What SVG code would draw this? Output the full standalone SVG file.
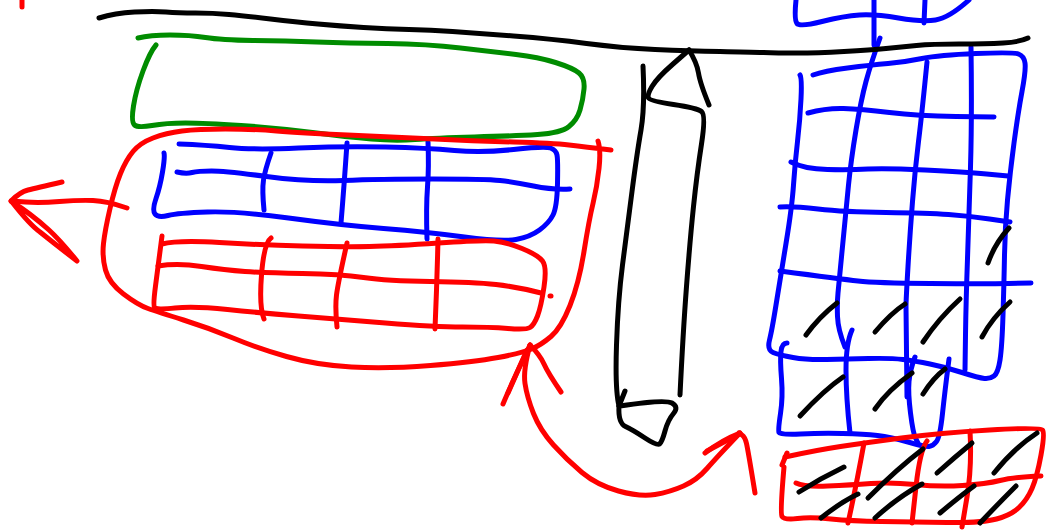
<svg xmlns="http://www.w3.org/2000/svg" width="1053" height="530" viewBox="0 0 1053 530">
<style>
path{fill:none;stroke-width:5;stroke-linecap:round;stroke-linejoin:round}
.k{stroke:#000}.g{stroke:#008c00}.r{stroke:#f00}.b{stroke:#00f}
</style>
<rect width="1053" height="530" fill="#fff"/>
<g id="blue-strokes">
<path class="b" d="M796 0Q794 20 797 23.5T822 21.5T859.5 15T898.5 18T935.5 20T969 0"/>
<path class="b" d="M874 0L874 45"/>
<path class="b" d="M925 0L924 23"/>
<path class="b" d="M179 144Q206 145 229.5 147.5T298.5 148T385.5 147T454.5 150.5T513.5 149.5T550.5 148T557 155T557.5 183.5T553 215T539.5 230T516 239.5T464.5 237T383.5 228.5T288.5 218T207.5 212T168 215.5T155 214T156 198.5T162.5 172T164 153"/>
<path class="b" d="M177 172Q186 174 192 172.5T211.5 171T266.5 176.5T343.5 180.5T432.5 179T500 180.5T533.5 186T570 189"/>
<path class="b" d="M271 153Q265 170 263.5 180T264 210"/>
<path class="b" d="M347 143Q344 187 341 223"/>
<path class="b" d="M428 142Q429 167 427.5 187T427 239"/>
<path class="b" d="M880 38Q871 63 866 81.5T856 130T848.5 185T842.5 246.5T838 293T837.5 316.5T845 347"/>
<path class="b" d="M813 75Q824 71 847.5 68T888 63.5T922 58.5T976 53.5T1018.5 54T1025 63T1022 91.5T1014 143T1007.5 200T1004.5 255T1003 315T1000 360T994 376T984.5 378.5T962 372.5T930 364T903 359.5T868.5 358.5T826.5 359.5T793 357.5T773 352.5T769.5 340T776 305T786 243.5T793.5 185T797.5 141.5T801 99T800 75"/>
<path class="b" d="M808 113Q826 108 843.5 108.5T889.5 112.5T956 116.5T994 117"/>
<path class="b" d="M791 162Q804 169 827.5 169.5T868 169T925 170T986.5 174T1008 176"/>
<path class="b" d="M780 207Q792 206 818 209T886 212.5T948.5 214.5T989.5 219T1010 222"/>
<path class="b" d="M780 271Q841 279 858 281T930.5 283.5T1008.5 283.5T1031 283"/>
<path class="b" d="M927 62Q922 113 918.5 141.5T912.5 201.5T908 266.5T906 306.5T907 397"/>
<path class="b" d="M971 47Q972 117 970.5 167T967.5 258.5T965.5 335T965 370"/>
<path class="b" d="M787 343Q782 343 781 351.5T781.5 378.5T780.5 413.5T779 432.5T800.5 434T842.5 433.5T877.5 435.5T908 442T929 446.5T936.5 441.5T942.5 413.5T949 359"/>
<path class="b" d="M852 330Q846 343 846 370T850 433"/>
<path class="b" d="M915 357Q910 370 909 381.5T910.5 413T915.5 438T918 443"/>
</g>
<g id="green-stroke">
<path class="g" d="M138 38Q150 35 170 35T205.5 37.5T253 40.5T316.5 42T387.5 43.5T460.5 48T516 54.5T555.5 62.5T579 73T584 89T580 110T569 126.5T537.5 134.5T474.5 137T415 139.5T371.5 139T312.5 132.5T241 125.5T185.5 123T152 125.5T134.5 125T133.5 106T143 71T156 45"/>
</g>
<g id="red-strokes">
<path class="r" d="M22 0L22 7"/>
<path class="r" d="M611 150Q585 147 569 145T513.5 142T434.5 139T347.5 135T276.5 131T225.5 129T182 131T153 138T133 151.5T120.5 173.5T110 208.5T103.5 243.5T105.5 270T123.5 294T148 308.5T183.5 320T233 338T286.5 356.5T351.5 367T430.5 365.5T498 357.5T531.5 349T551 336.5T570 305.5T584 251.5T593 203.5T599 168.5T598 141"/>
<path class="r" d="M127 208Q107 201 93 200.5T59.5 201.5T25.5 202T11 201"/>
<path class="r" d="M11 201Q20 192 28 190T62 182"/>
<path class="r" d="M12 202Q30 225 40 232Q60 248 77 261Q60 240 49 230Q30 213 12 202"/>
<path class="r" d="M162 236Q158 267 155.5 286T154.5 307.5T175 308T227.5 309.5T298.5 316T385.5 323T462.5 327T508 328.5T530 327.5T537.5 316T544 287T542.5 261T522 248.5T494 241T438.5 243T369.5 246.5T302.5 246T219.5 242.5T162 244"/>
<path class="r" d="M158 266Q178 263 201.5 266.5T245 271.5T302.5 273.5T363.5 277.5T430.5 281.5T496 284.5T541 293"/>
<path class="r" d="M271 238Q264 243 261.5 275T264 319"/>
<path class="r" d="M347 243Q338 283 336.5 295T337 327"/>
<path class="r" d="M438 239Q437 283 435 329"/>
<path class="r" d="M550 296L551 296"/>
<path class="r" d="M755 493Q748 450 746.5 443.5T742 435T739 433"/>
<path class="r" d="M705 453Q722 440 740 433"/>
<path class="r" d="M707 451L739 434"/>
<path class="r" d="M740 433Q717 457 707 468.5T683.5 486T655 494.5T618.5 491T582 472.5T553.5 445T533.5 413.5T525 383.5T530 345"/>
<path class="r" d="M503 404Q513 380 530 345"/>
<path class="r" d="M530 345Q540 355 544 364T561 392"/>
<path class="r" d="M508 393L527 350"/>
<path class="r" d="M787 453L782 465"/>
<path class="r" d="M785 457Q817 450 840.5 446.5T901.5 438T989.5 430T1042.5 430T1041 455T1032 488.5T1019 507.5T996.5 519T947 522.5T881.5 521.5T831 519T797.5 518.5T782 516.5T784 467"/>
<path class="r" d="M796 483Q804 487 827.5 486T871 483.5T915 484.5T962.5 485.5T1000 480.5T1041 476"/>
<path class="r" d="M864 443Q856 487 848 523"/>
<path class="r" d="M927 441Q920 450 916 486.5T912 523"/>
<path class="r" d="M970 431Q972 467 967 497T962 527"/>
</g>
<g id="black-strokes">
<path class="k" d="M99 18Q115 13 134.5 12T166 12T195.5 13T229 14.5T270.5 19T318 24T363.5 27.5T409 29.5T452.5 31.5T513.5 36T586.5 43.5T655 49.5T720 51.5T763.5 52.5T797 53T844 51.5T886 48.5T916.5 45.5T959 44T1003 43T1028 38"/>
<path class="k" d="M643 66Q645 107 641 130T632 191.5T622.5 265T616.5 345T619 406"/>
<path class="k" d="M625 391L619 406"/>
<path class="k" d="M619 406Q618 423 625.5 426.5T645 438T659.5 444T665 431T673.5 413.5T672 403T620 406"/>
<path class="k" d="M680 395Q683 333 686.5 286.5T693.5 206.5T701.5 144T701.5 111.5T673.5 104.5T648.5 98T652 86.5T673 64T689 50"/>
<path class="k" d="M689 50Q697 63 698.5 73T709 105"/>
<path class="k" d="M806 335Q819 317 837 303"/>
<path class="k" d="M875 332Q891 313 905 304"/>
<path class="k" d="M923 342Q939 318 960 299"/>
<path class="k" d="M982 337Q992 318 1010 302"/>
<path class="k" d="M800 416Q824 390 843 377"/>
<path class="k" d="M875 409Q888 390 912 373"/>
<path class="k" d="M923 394Q933 378 945 369"/>
<path class="k" d="M988 263Q995 243 1009 228"/>
<path class="k" d="M799 492Q821 478 844 467"/>
<path class="k" d="M821 518Q841 502 858 494"/>
<path class="k" d="M868 498Q898 468 923 449"/>
<path class="k" d="M875 518Q898 497 922 484"/>
<path class="k" d="M937 473Q955 457 972 443"/>
<path class="k" d="M940 513Q959 497 974 486"/>
<path class="k" d="M994 473Q1014 448 1037 433"/>
<path class="k" d="M980 523Q997 505 1016 486"/>
</g>
</svg>
